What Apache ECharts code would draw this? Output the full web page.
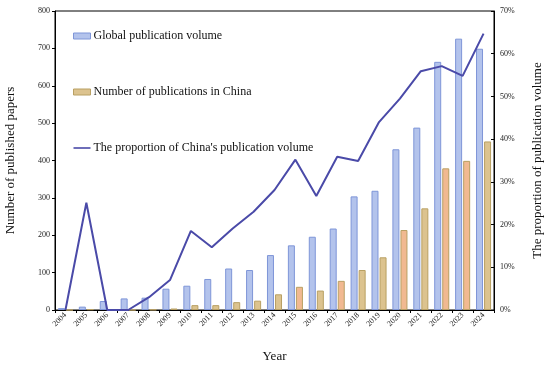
<!DOCTYPE html>
<html>
<head>
<meta charset="utf-8">
<script src="https://cdn.jsdelivr.net/npm/echarts@6/dist/echarts.min.js"></script>
<style>html,body{margin:0;padding:0;background:#fff}#c{width:550px;height:366px}</style>
</head>
<body>
<div id="c"></div>
<script>
const years = ['2004','2005','2006','2007','2008','2009','2010','2011','2012','2013','2014','2015','2016','2017','2018','2019','2020','2021','2022','2023','2024'];
const globalVolume = [5, 9, 24, 31, 33, 57, 65, 83, 111, 107, 147, 173, 196, 218, 304, 319, 430, 488, 664, 726, 699];
const chinaVolume = [0, 2, 0, 0, 1, 4, 13, 13, 21, 25, 42, 62, 52, 78, 107, 141, 214, 272, 379, 399, 451];
const chinaProportion = [0, 25.1, 0, 0, 3.0, 7.0, 18.5, 14.7, 19.1, 23.0, 28.1, 35.2, 26.7, 35.9, 34.9, 44.0, 49.5, 55.9, 57.1, 54.8, 64.7];
const leftTicks = {min: 0, max: 800, interval: 100};
const rightTicks = {min: 0, max: 70, interval: 10};

const orangeYears = ['2015','2017','2020','2022','2023'];
const font = 'Liberation Serif';
const lineColor = '#4a4aa8';
const chart = echarts.init(document.getElementById('c'));
chart.setOption({
  animation: false,
  textStyle: {fontFamily: font},
  grid: {left: 55, right: 56, top: 11, bottom: 56, show: true, borderColor: '#000', borderWidth: 1, containLabel: false, outerBoundsMode: 'none'},
  legend: {
    orient: 'vertical', left: 73, top: 30, padding: 0, itemGap: 44, itemWidth: 17, itemHeight: 6,
    textStyle: {fontFamily: font, fontSize: 12, color: '#111', padding: [0, 0, 0, -2]},
    data: [
      {name: 'Global publication volume', icon: 'rect', itemStyle: {color: '#b3c3ec', borderColor: '#7f96d8', borderWidth: 1}},
      {name: 'Number of publications in China', icon: 'rect', itemStyle: {color: '#dcc38f', borderColor: '#b9a063', borderWidth: 1}},
      {name: "The proportion of China's publication volume", icon: 'path://M0,0 M17,6 M0,2.2H17V3.8H0Z', itemStyle: {color: lineColor, borderWidth: 0}}
    ]
  },
  xAxis: {
    type: 'category', data: years,
    name: 'Year', nameLocation: 'middle', nameGap: 40,
    nameTextStyle: {fontFamily: font, fontSize: 13, color: '#111'},
    axisLine: {lineStyle: {color: '#000', width: 1}},
    axisTick: {show: true, length: 3, lineStyle: {color: '#000'}},
    axisLabel: {rotate: 45, fontSize: 8, color: '#222', margin: 4, interval: 0, fontFamily: font}
  },
  yAxis: [{
    type: 'value', min: leftTicks.min, max: leftTicks.max, interval: leftTicks.interval,
    name: 'Number of published papers', nameLocation: 'middle', nameGap: 38, nameRotate: 90,
    nameTextStyle: {fontFamily: font, fontSize: 13, color: '#111'},
    axisLine: {show: true, lineStyle: {color: '#000'}},
    axisTick: {show: true, length: 3, lineStyle: {color: '#000'}},
    axisLabel: {fontSize: 8, color: '#222', margin: 5, fontFamily: font},
    splitLine: {show: false}
  }, {
    type: 'value', min: rightTicks.min, max: rightTicks.max, interval: rightTicks.interval,
    name: 'The proportion of publication volume', nameLocation: 'middle', nameGap: 37, nameRotate: 90,
    nameTextStyle: {fontFamily: font, fontSize: 13, color: '#111'},
    axisLine: {show: true, lineStyle: {color: '#000'}},
    axisTick: {show: true, inside: true, length: 3, lineStyle: {color: '#000'}},
    axisLabel: {fontSize: 8, color: '#222', margin: 6, formatter: '{value}%', fontFamily: font},
    splitLine: {show: false}
  }],
  series: [{
    name: 'Global publication volume', type: 'bar', data: globalVolume,
    barWidth: 7, barGap: '15%',
    itemStyle: {color: '#b3c3ec', borderColor: '#7f96d8', borderWidth: 1}
  }, {
    name: 'Number of publications in China', type: 'bar', data: chinaVolume,
    barWidth: 7,
    itemStyle: {
      color: p => orangeYears.includes(years[p.dataIndex]) ? '#f1b991' : '#dcc38f',
      borderColor: '#b9a063', borderWidth: 1
    }
  }, {
    name: "The proportion of China's publication volume", type: 'line', yAxisIndex: 1,
    data: chinaProportion, symbol: 'none',
    lineStyle: {color: lineColor, width: 2}, itemStyle: {color: lineColor}
  }]
});
</script>
</body>
</html>
